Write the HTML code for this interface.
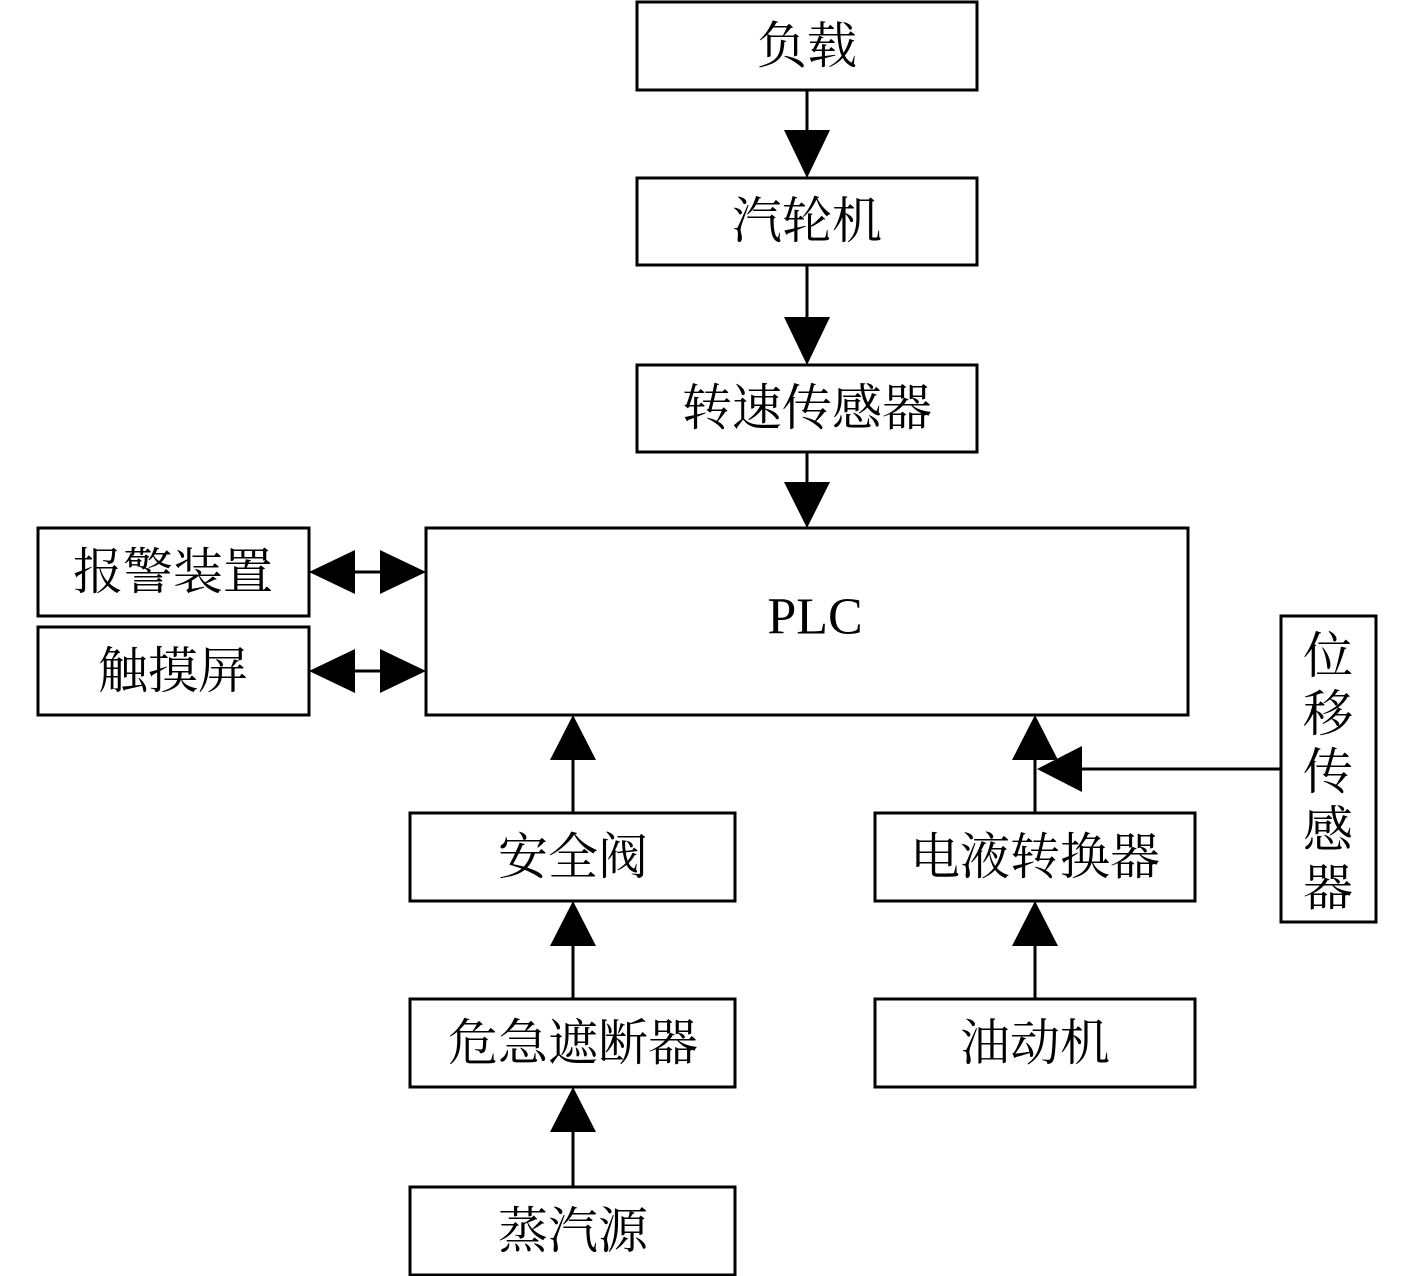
<!DOCTYPE html>
<html><head><meta charset="utf-8"><style>
html,body{margin:0;padding:0;background:#fff}
svg{display:block}
text{font-family:"Liberation Serif","Noto Serif CJK SC",serif;font-size:50px;fill:#000;text-anchor:middle;dominant-baseline:central}
</style></head><body>
<svg width="1417" height="1276" viewBox="0 0 1417 1276" xmlns="http://www.w3.org/2000/svg">
<g fill="none" stroke="#000" stroke-width="3">
<rect x="637" y="2" width="340" height="88"/>
<rect x="637" y="178" width="340" height="87"/>
<rect x="637" y="365" width="340" height="87"/>
<rect x="426" y="528" width="762" height="187"/>
<rect x="38" y="528" width="271" height="88"/>
<rect x="38" y="627" width="271" height="88"/>
<rect x="1281" y="616" width="95" height="306"/>
<rect x="410" y="813" width="325" height="88"/>
<rect x="410" y="999" width="325" height="88"/>
<rect x="410" y="1187" width="325" height="88"/>
<rect x="875" y="813" width="320" height="88"/>
<rect x="875" y="999" width="320" height="88"/>
<line x1="807" y1="90" x2="807" y2="140"/>
<line x1="807" y1="265" x2="807" y2="325"/>
<line x1="807" y1="452" x2="807" y2="490"/>
<line x1="340" y1="572" x2="395" y2="572"/>
<line x1="340" y1="671" x2="395" y2="671"/>
<line x1="573" y1="813" x2="573" y2="750"/>
<line x1="573" y1="999" x2="573" y2="935"/>
<line x1="573" y1="1187" x2="573" y2="1120"/>
<line x1="1035" y1="813" x2="1035" y2="750"/>
<line x1="1035" y1="999" x2="1035" y2="935"/>
<line x1="1281" y1="769" x2="1075" y2="769"/>
</g>
<g fill="#000">
<polygon points="784,130 830,130 807,178"/>
<polygon points="784,317 830,317 807,365"/>
<polygon points="784,482 830,482 807,528"/>
<polygon points="309,572 355,550 355,594"/>
<polygon points="426,572 380,550 380,594"/>
<polygon points="309,671 355,649 355,693"/>
<polygon points="426,671 380,649 380,693"/>
<polygon points="573,715 550,760 596,760"/>
<polygon points="573,901 550,946 596,946"/>
<polygon points="573,1087 550,1132 596,1132"/>
<polygon points="1035,715 1012,760 1058,760"/>
<polygon points="1035,901 1012,946 1058,946"/>
<polygon points="1037,769 1082,746 1082,792"/>
</g>
<text x="807" y="46">负载</text>
<text x="807" y="221">汽轮机</text>
<text x="807" y="408">转速传感器</text>
<text x="815" y="617" style="font-size:52px">PLC</text>
<text x="173" y="572">报警装置</text>
<text x="173" y="671">触摸屏</text>
<text x="573" y="857">安全阀</text>
<text x="573" y="1043">危急遮断器</text>
<text x="573" y="1231">蒸汽源</text>
<text x="1035" y="857">电液转换器</text>
<text x="1035" y="1043">油动机</text>
<text x="1328" y="656">位</text>
<text x="1328" y="714">移</text>
<text x="1328" y="772">传</text>
<text x="1328" y="830">感</text>
<text x="1328" y="888">器</text>
</svg>
</body></html>
